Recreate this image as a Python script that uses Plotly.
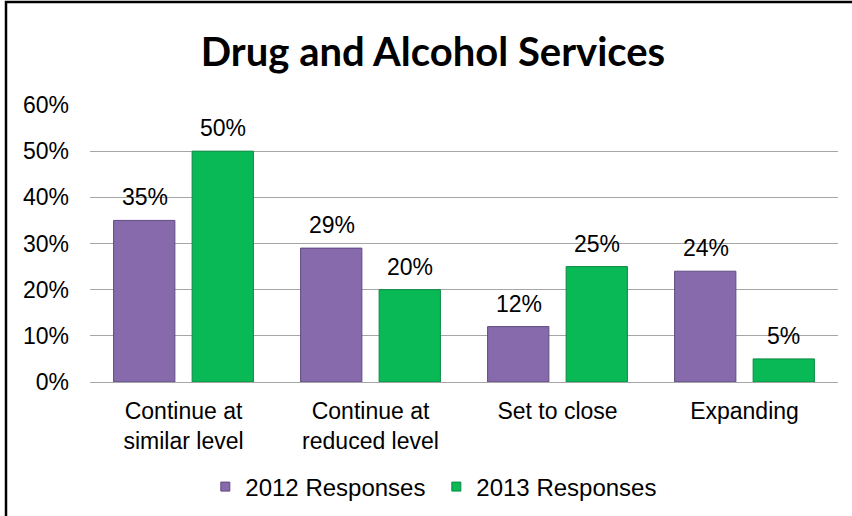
import plotly.graph_objects as go

# Survey results: status of drug and alcohol services
categories = ["Continue at<br>similar level", "Continue at<br>reduced level", "Set to close", "Expanding"]
responses_2012 = [0.35, 0.29, 0.12, 0.24]
responses_2013 = [0.50, 0.20, 0.25, 0.05]
series_names = ["2012 Responses", "2013 Responses"]
y_ticks = [0, 0.1, 0.2, 0.3, 0.4, 0.5, 0.6]
y_tick_labels = ["0%", "10%", "20%", "30%", "40%", "50%", "60%"]

purple = "#866AAB"
purple_edge = "#5E4A80"
green = "#08B955"
green_edge = "#0A8A42"

label_font = dict(family="Liberation Sans, Arial, sans-serif", size=23, color="#000000")
legend_font = dict(family="Liberation Sans, Arial, sans-serif", size=24, color="#000000")

W, H = 852, 516
ml, mr, mt, mb = 90, 14, 105, 134
pw, ph = W - ml - mr, H - mt - mb
y_max = 0.6
bar_shift = 39         # pixel offset of each bar centre from its category centre

fig = go.Figure()
series = [
    (series_names[0], responses_2012, purple, purple_edge, "a", -bar_shift),
    (series_names[1], responses_2013, green, green_edge, "b", bar_shift),
]
for name, vals, fill, edge, grp, shift in series:
    fig.add_trace(go.Bar(
        x=categories, y=vals, name=name, offsetgroup=grp, showlegend=False,
        marker=dict(color=fill, line=dict(color=edge, width=1)),
    ))
    # legend entry with a small square swatch
    fig.add_trace(go.Scatter(
        x=[None], y=[None], mode="markers", name=name,
        marker=dict(symbol="square", size=9, color=fill, line=dict(color=edge, width=1)),
    ))
    for c, v in zip(categories, vals):
        fig.add_annotation(x=c, y=v, xref="x", yref="y", text=f"{v:.0%}",
                           showarrow=False, xshift=shift, yshift=8,
                           yanchor="bottom", font=label_font)

fig.update_layout(
    width=W, height=H,
    margin=dict(l=ml, r=mr, t=mt, b=mb, pad=0, autoexpand=False),
    paper_bgcolor="white", plot_bgcolor="white",
    barmode="group", bargap=0.16, bargroupgap=0.22,
    title=dict(text="<b>Drug and Alcohol Services</b>",
               font=dict(family="Lato, sans-serif", size=40, color="#000000"),
               x=433 / W, xanchor="center", xref="container",
               y=1 - 52 / H, yanchor="middle", yref="container"),
    font=label_font,
    legend=dict(orientation="h", x=0.463, xanchor="center",
                y=(H - 487) / H, yref="container", yanchor="middle",
                font=legend_font, itemwidth=30,
                entrywidth=186, entrywidthmode="pixels",
                traceorder="normal", itemclick=False),
)
fig.update_xaxes(showgrid=False, showline=False, ticks="", tickfont=label_font,
                 ticklabelstandoff=13)
fig.update_yaxes(range=[0, y_max], tickvals=y_ticks, ticktext=y_tick_labels,
                 showgrid=True, gridcolor="#A6A6A6", gridwidth=1,
                 zeroline=True, zerolinecolor="#A6A6A6", zerolinewidth=1,
                 showline=False, ticks="", tickfont=label_font,
                 ticklabelstandoff=20)

# Chart border (left and top edges visible)
fig.add_shape(type="rect", xref="paper", yref="paper",
              x0=(6 - ml) / pw, x1=(W + 10 - ml) / pw,
              y0=-(H + 10 - (H - mb)) / ph, y1=1 + (mt - 2) / ph,
              line=dict(color="#000000", width=2.5), fillcolor="rgba(0,0,0,0)", layer="above")

fig.write_html("out.html")
